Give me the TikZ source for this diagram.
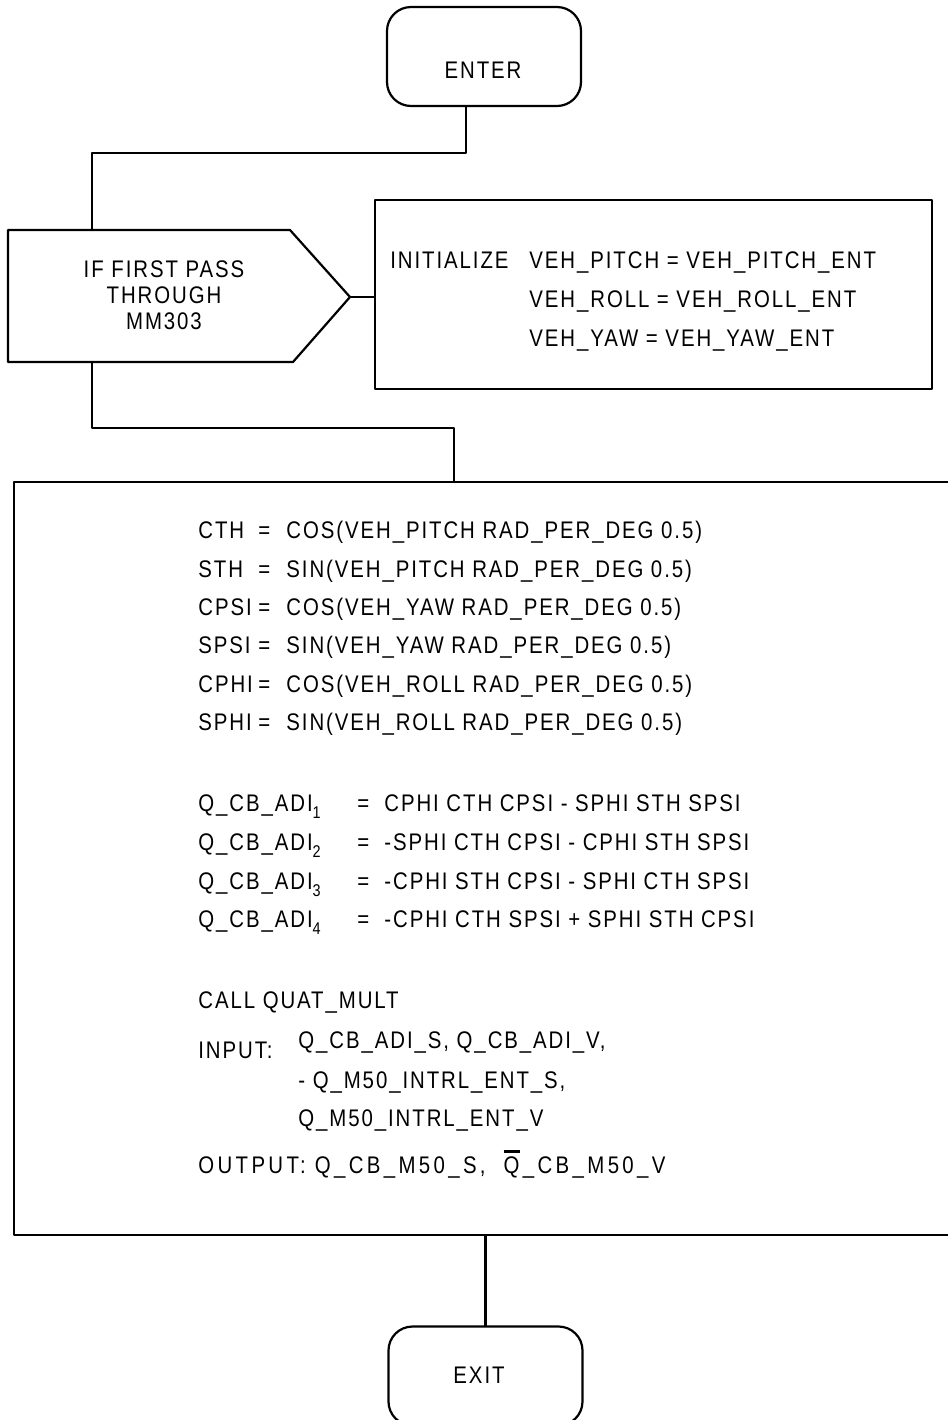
\documentclass[tikz,border=0pt]{standalone}
\usepackage{fontspec}
\setmainfont{Liberation Sans}[FakeStretch=0.85,LetterSpace=8]
\newcommand{\dfont}{\fontsize{12}{13}\selectfont}
\newcommand{\lowsub}[1]{\raisebox{-3.6pt}{\fontsize{8.5}{8.5}\selectfont #1}}
\newcommand{\barQ}{\leavevmode\rlap{\rule[9.8pt]{8pt}{1.5pt}}Q}

\tikzset{
  term/.style={draw, line width=1.1pt, rounded corners=12pt, inner sep=0pt,
    minimum width=97pt, minimum height=49.5pt},
  blk/.style={draw, line width=1.1pt, inner sep=0pt},
  flow/.style={line width=1.05pt},
  lbl/.style={inner sep=0pt, anchor=base, font=\dfont},
  txt/.style={inner sep=0pt, anchor=base west, font=\dfont},
}

\begin{document}
\begin{tikzpicture}[x=0.5pt, y=-0.5pt, line cap=round, line join=round]
  \useasboundingbox (0,0) rectangle (948,1420);
  \clip (0,0) rectangle (948,1420);

  % Enter
  \node[term] (enter) at (484,56.5) {};
  \node[lbl] (enterT) at (483,78) {ENTER};
  \coordinate (enterOut) at ([xshift=-9pt]enter.south);

  % First pass test
  \coordinate (decTop) at (92,230);
  \coordinate (decTip) at (350,297);
  \coordinate (decBot) at (92,362);
  \draw[line width=1.1pt] (8,230) -- (290,230) -- (decTip) -- (293,362) -- (8,362) -- cycle;
  \node[lbl, anchor=center, align=center] (decT) at (164,295)
    {IF FIRST PASS\\THROUGH\\MM303};

  % Initialize box
  \node[blk, minimum width=278.5pt, minimum height=94.5pt] (init) at (653.5,294.5) {};
  \node[txt] (initT) at (390,268) {INITIALIZE};
  \node[txt] (pitch) at (529,268) {VEH\_PITCH = VEH\_PITCH\_ENT};
  \node[txt] (roll) at (529,307) {VEH\_ROLL = VEH\_ROLL\_ENT};
  \node[txt] (yaw) at (529,346) {VEH\_YAW = VEH\_YAW\_ENT};

  % Main computation box
  \node[blk, minimum width=474pt, minimum height=376.5pt] (calc) at (488,858.5) {};
  \coordinate (calcIn) at (454,0 |- calc.north);

  \foreach \lhs/\rhs/\yy [count=\i] in {
      CTH/COS(VEH\_PITCH RAD\_PER\_DEG 0.5)/538,
      STH/SIN(VEH\_PITCH RAD\_PER\_DEG 0.5)/577,
      CPSI/COS(VEH\_YAW RAD\_PER\_DEG 0.5)/615,
      SPSI/SIN(VEH\_YAW RAD\_PER\_DEG 0.5)/653,
      CPHI/COS(VEH\_ROLL RAD\_PER\_DEG 0.5)/692,
      SPHI/SIN(VEH\_ROLL RAD\_PER\_DEG 0.5)/730} {
    \node[txt] (trigL\i) at (198,\yy) {\lhs};
    \node[txt] (trigE\i) at (258,\yy) {=};
    \node[txt] (trigR\i) at (286,\yy) {\rhs};
  }

  \foreach \rhs/\yy [count=\i] in {
      CPHI CTH CPSI - SPHI STH SPSI/811,
      -SPHI CTH CPSI - CPHI STH SPSI/850,
      -CPHI STH CPSI - SPHI CTH SPSI/889,
      -CPHI CTH SPSI + SPHI STH CPSI/927} {
    \node[txt] (adiL\i) at (198,\yy) {Q\_CB\_ADI\lowsub{\i}};
    \node[txt] (adiE\i) at (357,\yy) {=};
    \node[txt] (adiR\i) at (384,\yy) {\rhs};
  }

  \node[txt] (call) at (198,1008) {CALL QUAT\_MULT};
  \node[txt] (input) at (198,1058) {INPUT:};
  \node[txt] (in1) at (298,1048) {Q\_CB\_ADI\_S, Q\_CB\_ADI\_V,};
  \node[txt] (in2) at (298,1088) {- Q\_M50\_INTRL\_ENT\_S,};
  \node[txt] (in3) at (298,1126) {Q\_M50\_INTRL\_ENT\_V};
  \node[txt] (output) at (198,1173)
    {\addfontfeature{LetterSpace=14}OUTPUT:\ Q\_CB\_M50\_S,\ \ \barQ\_CB\_M50\_V};

  % Exit
  \node[term] (exit) at (485.5,1376) {};
  \node[lbl] (exitT) at (479,1383) {EXIT};

  % Flow lines
  \draw[flow] (enterOut) -- ++(0,46) -| (decTop);
  \draw[flow] (decTip) -- (decTip -| init.west);
  \draw[flow] (decBot) -- ++(0,66) -| (calcIn);
  \draw[flow] (exit.north |- calc.south) -- (exit.north);
\end{tikzpicture}
\end{document}
